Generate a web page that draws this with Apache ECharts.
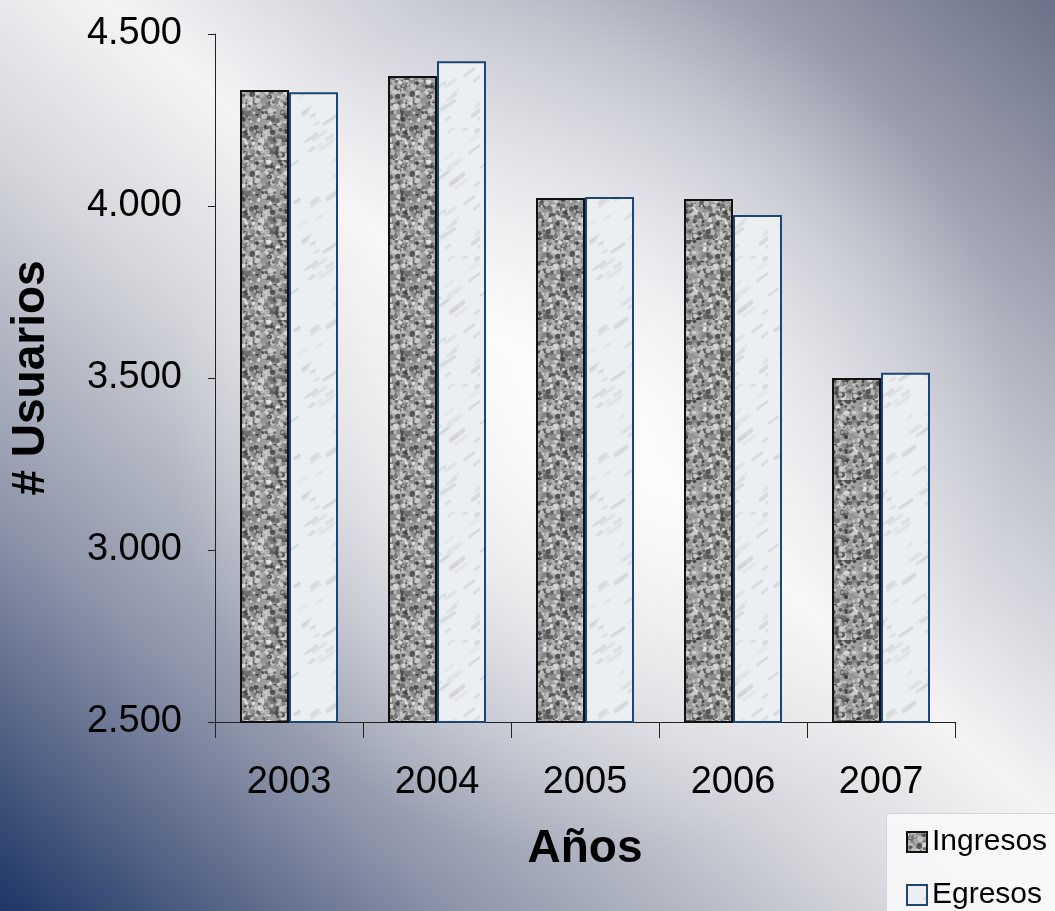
<!DOCTYPE html>
<html style="height: 100%">
<head>
    <meta charset="utf-8">
    <title>Usuarios por año</title>
</head>
<body style="height: 100%; margin: 0; background:
    radial-gradient(ellipse 40% 48% at 56% 46%, rgba(255,255,255,0.85) 0%, rgba(255,255,255,0) 100%),
    linear-gradient(to top right, #1f3566 0%, #8f96aa 22%, #d6d7dc 42%, #f4f4f6 55%, #b3b6c2 78%, #6c7187 100%);">
<div id="container" style="height: 100%"></div>
<script type="text/javascript" src="https://cdn.jsdelivr.net/npm/echarts@6/dist/echarts.min.js"></script>
<script type="text/javascript">
    var years = ['2003', '2004', '2005', '2006', '2007'];
    var ingresos = [4337, 4378, 4023, 4020, 3500];
    var egresos = [4331, 4421, 4026, 3974, 3515];
    var yTicks = [2500, 3000, 3500, 4000, 4500];

    // textura de las barras (semilla fija)
    var seed = 7;
    function rnd() {
        seed = (seed * 16807) % 2147483647;
        return (seed - 1) / 2147483646;
    }

    function granito() {
        var c = document.createElement('canvas');
        c.width = 80; c.height = 80;
        var g = c.getContext('2d');
        g.fillStyle = '#9e9e9e';
        g.fillRect(0, 0, 80, 80);
        for (var i = 0; i < 900; i++) {
            var v = Math.floor(50 + rnd() * 190);
            g.fillStyle = 'rgba(' + v + ',' + v + ',' + v + ',0.8)';
            g.beginPath();
            g.arc(rnd() * 80, rnd() * 80, 1 + rnd() * 2, 0, Math.PI * 2);
            g.fill();
        }
        return c;
    }

    function marmol() {
        var c = document.createElement('canvas');
        c.width = 96; c.height = 128;
        var g = c.getContext('2d');
        g.fillStyle = '#eceff1';
        g.fillRect(0, 0, 96, 128);
        for (var i = 0; i < 45; i++) {
            var x = rnd() * 96, y = rnd() * 128, l = 5 + rnd() * 14;
            var v = Math.floor(160 + rnd() * 50);
            g.strokeStyle = 'rgba(' + v + ',' + v + ',' + (v + 4) + ',0.3)';
            g.lineWidth = 2 + rnd() * 3;
            g.lineCap = 'round';
            g.beginPath();
            g.moveTo(x, y);
            g.lineTo(x + l * 0.7, y - l * 0.5);
            g.stroke();
        }
        return c;
    }

    var dom = document.getElementById("container");
    var myChart = echarts.init(dom, null, {renderer: 'canvas'});
    var fuente = '"Liberation Sans", Arial, sans-serif';
    var textoLeyenda = {
        fontFamily: fuente,
        fontSize: 30,
        color: '#000'
    };

    var option = {
        backgroundColor: 'transparent',
        animation: false,
        grid: {
            left: 215,
            right: 100,
            top: 34,
            bottom: 189,
            outerBoundsMode: 'none'
        },
        graphic: [{
            type: 'rect',
            left: 886,
            top: 813,
            shape: {width: 200, height: 120},
            style: {fill: 'rgba(248,248,249,0.9)', stroke: '#d4d4d8', lineWidth: 1},
            z: 0
        }],
        legend: [{
            left: 906,
            top: 827,
            padding: 0,
            itemGap: 5,
            itemWidth: 20,
            itemHeight: 20,
            icon: 'rect',
            textStyle: textoLeyenda,
            data: ['Ingresos']
        }, {
            left: 906,
            top: 880,
            padding: 0,
            itemWidth: 20,
            itemHeight: 20,
            icon: 'rect',
            textStyle: textoLeyenda,
            data: ['Egresos']
        }],
        xAxis: {
            type: 'category',
            data: years,
            name: 'Años',
            nameLocation: 'middle',
            nameGap: 104,
            nameTextStyle: {
                fontFamily: fuente,
                fontSize: 46,
                fontWeight: 'bold',
                color: '#000'
            },
            axisLine: {lineStyle: {color: '#222', width: 1}},
            axisTick: {show: true, length: 16, lineStyle: {color: '#222'}},
            axisLabel: {
                margin: 42,
                fontFamily: fuente,
                fontSize: 38,
                color: '#000'
            }
        },
        yAxis: {
            type: 'value',
            min: yTicks[0],
            max: yTicks[yTicks.length - 1],
            interval: 500,
            name: '# Usuarios',
            nameLocation: 'middle',
            nameGap: 161,
            nameTextStyle: {
                fontFamily: fuente,
                fontSize: 46,
                fontWeight: 'bold',
                color: '#000'
            },
            axisLine: {show: true, lineStyle: {color: '#222', width: 1}},
            axisTick: {show: true, length: 7, lineStyle: {color: '#222'}},
            splitLine: {show: false},
            axisLabel: {
                margin: 33,
                fontFamily: fuente,
                fontSize: 38,
                color: '#000',
                formatter: function (v) {
                    return String(v).replace(/\B(?=(\d{3})+(?!\d))/g, '.');
                }
            }
        },
        series: [{
            name: 'Ingresos',
            type: 'bar',
            barWidth: 49,
            barGap: '0%',
            itemStyle: {
                color: {image: granito(), repeat: 'repeat'},
                borderColor: '#111',
                borderWidth: 2
            },
            data: ingresos
        }, {
            name: 'Egresos',
            type: 'bar',
            barWidth: 49,
            barGap: '0%',
            itemStyle: {
                color: {image: marmol(), repeat: 'repeat'},
                borderColor: '#1d4677',
                borderWidth: 2
            },
            data: egresos
        }]
    };

    myChart.setOption(option, true);
</script>
</body>
</html>
